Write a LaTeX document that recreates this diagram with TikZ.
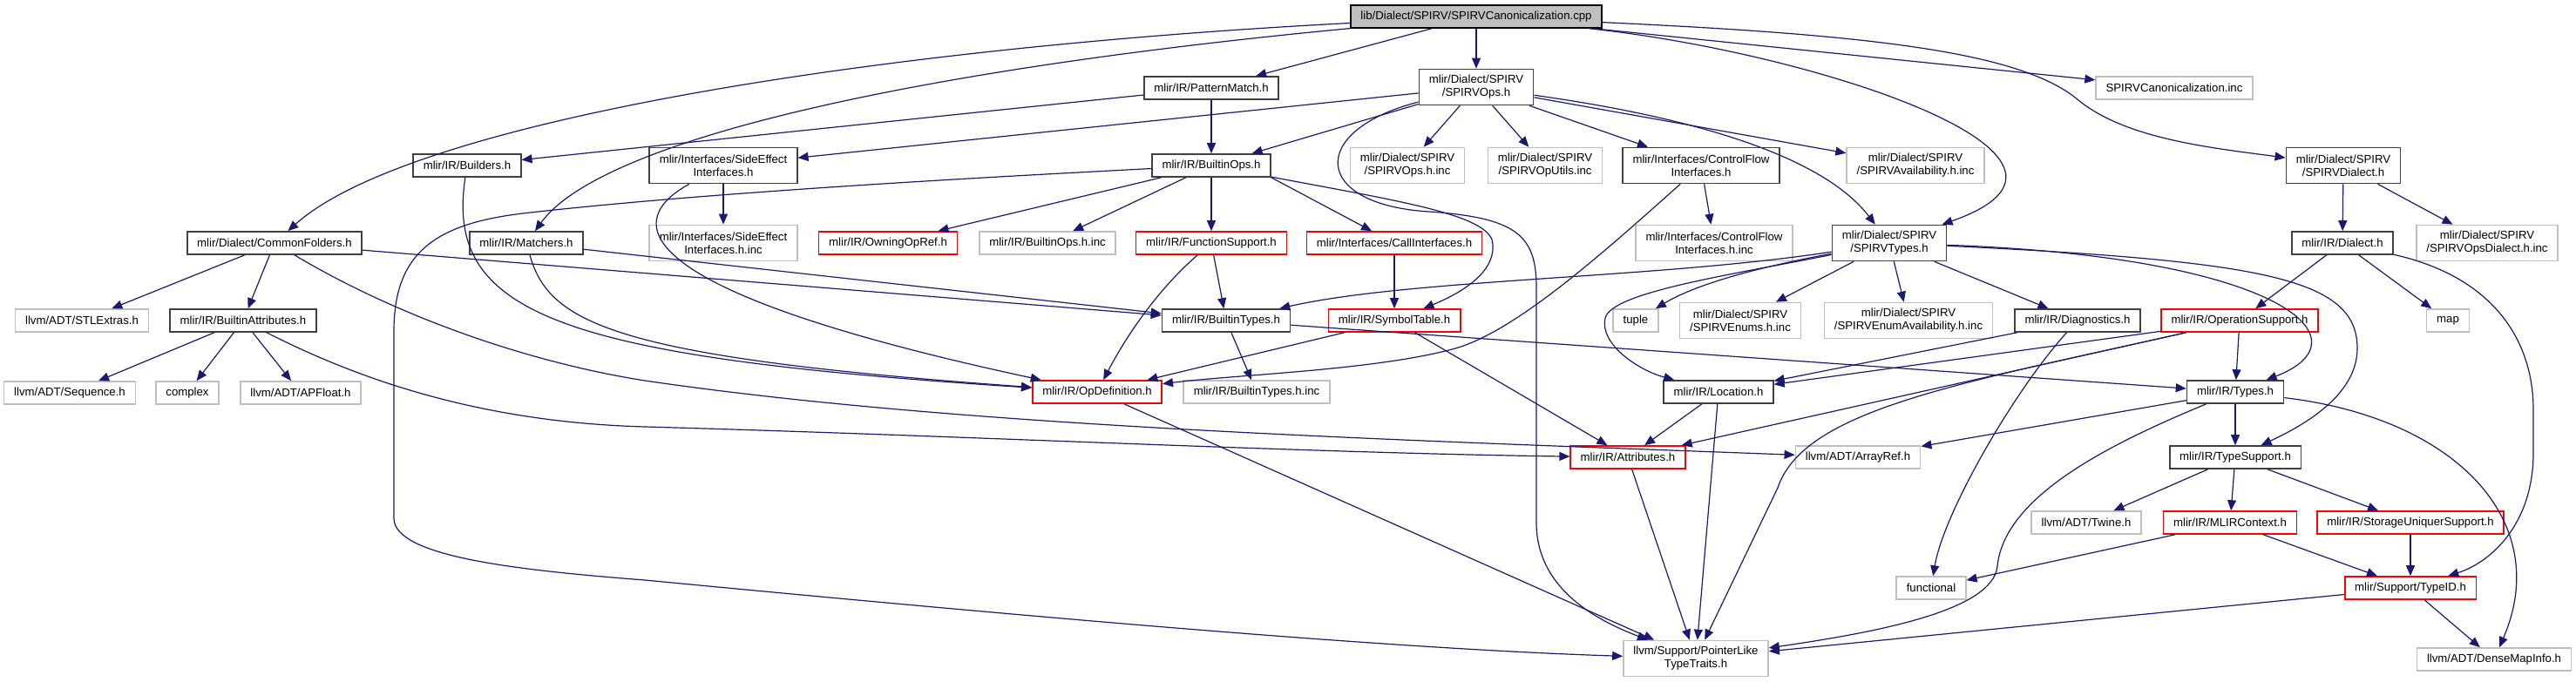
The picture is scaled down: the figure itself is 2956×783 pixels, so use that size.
\documentclass[tikz,border=0pt]{standalone}
\usepackage{fontspec}
\setmainfont{Liberation Sans}
\usetikzlibrary{arrows.meta}
\definecolor{edgec}{HTML}{191970}
\definecolor{nodeblk}{HTML}{404040}
\definecolor{nodegray}{HTML}{BFBFBF}
\definecolor{nodered}{HTML}{FF0000}
\begin{document}
\begin{tikzpicture}[x=1pt,y=-1pt,
  box/.style={draw=nodeblk, line width=1.6pt, rectangle, inner xsep=11.5pt, inner ysep=0pt,
    minimum height=26pt, font=\fontsize{13.2}{15}\selectfont, align=center, text=black},
  ext/.style={box, draw=nodegray},
  trunc/.style={box, draw=nodered},
  two/.style={minimum height=41pt},
  edge/.style={draw=edgec, line width=1.2pt, -{Triangle[length=12pt,width=10pt]}},
]
\useasboundingbox (0,0) rectangle (2956,783);
% nodes
\node[box,draw=black,fill=nodegray] (root) at (1694,19) {lib/Dialect/SPIRV/SPIRVCanonicalization.cpp};
\node[box] (builders) at (536,190) {mlir/IR/Builders.h};
\node[box] (commonf) at (315,279) {mlir/Dialect/CommonFolders.h};
\node[box] (matchers) at (604,279) {mlir/IR/Matchers.h};
\node[ext] (stlextras) at (94,368) {llvm/ADT/STLExtras.h};
\node[box] (battr) at (279,368) {mlir/IR/BuiltinAttributes.h};
\node[ext] (sequence) at (80,451) {llvm/ADT/Sequence.h};
\node[ext] (complex) at (215,451) {complex};
\node[ext] (apfloat) at (345,451) {llvm/ADT/APFloat.h};
\node[box] (pmatch) at (1390,101) {mlir/IR/PatternMatch.h};
\node[box,two] (sideeff) at (830,190) {mlir/Interfaces/SideEffect\\Interfaces.h};
\node[box] (bops) at (1390,190) {mlir/IR/BuiltinOps.h};
\node[ext,two] (sideinc) at (830,279) {mlir/Interfaces/SideEffect\\Interfaces.h.inc};
\node[trunc] (owning) at (1019,279) {mlir/IR/OwningOpRef.h};
\node[ext] (bopsinc) at (1202,279) {mlir/IR/BuiltinOps.h.inc};
\node[trunc] (funcsup) at (1390,279) {mlir/IR/FunctionSupport.h};
\node[box] (btypes) at (1407,368) {mlir/IR/BuiltinTypes.h};
\node[trunc] (opdef) at (1259,450) {mlir/IR/OpDefinition.h};
\node[ext] (btypesinc) at (1442,450) {mlir/IR/BuiltinTypes.h.inc};
\node[box,two] (spops) at (1694,100) {mlir/Dialect/SPIRV\\/SPIRVOps.h};
\node[ext,two] (opsinc) at (1615,190) {mlir/Dialect/SPIRV\\/SPIRVOps.h.inc};
\node[ext,two] (oputils) at (1773,190) {mlir/Dialect/SPIRV\\/SPIRVOpUtils.inc};
\node[box,two] (cflow) at (1952,190) {mlir/Interfaces/ControlFlow\\Interfaces.h};
\node[ext,two] (avail) at (2198,190) {mlir/Dialect/SPIRV\\/SPIRVAvailability.h.inc};
\node[ext] (canoninc) at (2495,101) {SPIRVCanonicalization.inc};
\node[box,two] (spdialect) at (2689,190) {mlir/Dialect/SPIRV\\/SPIRVDialect.h};
\node[trunc] (callif) at (1600,279) {mlir/Interfaces/CallInterfaces.h};
\node[ext,two] (cflowinc) at (1967,279) {mlir/Interfaces/ControlFlow\\Interfaces.h.inc};
\node[box,two] (sptypes) at (2168,279) {mlir/Dialect/SPIRV\\/SPIRVTypes.h};
\node[box] (dialect) at (2688,279) {mlir/IR/Dialect.h};
\node[ext,two] (opsdialinc) at (2854,279) {mlir/Dialect/SPIRV\\/SPIRVOpsDialect.h.inc};
\node[trunc] (symtab) at (1600,368) {mlir/IR/SymbolTable.h};
\node[ext] (tuple) at (1877,368) {tuple};
\node[ext,two] (enums) at (1997,368) {mlir/Dialect/SPIRV\\/SPIRVEnums.h.inc};
\node[ext,two] (enumavail) at (2190,368) {mlir/Dialect/SPIRV\\/SPIRVEnumAvailability.h.inc};
\node[box] (diag) at (2384,368) {mlir/IR/Diagnostics.h};
\node[trunc] (opsup) at (2570,368) {mlir/IR/OperationSupport.h};
\node[ext] (map) at (2809,368) {map};
\node[box] (location) at (1972,450) {mlir/IR/Location.h};
\node[box] (types) at (2565,450) {mlir/IR/Types.h};
\node[trunc] (attrs) at (1868,525) {mlir/IR/Attributes.h};
\node[ext] (arrayref) at (2132,525) {llvm/ADT/ArrayRef.h};
\node[box] (typesup) at (2565,525) {mlir/IR/TypeSupport.h};
\node[ext] (twine) at (2394,600) {llvm/ADT/Twine.h};
\node[trunc] (mlirctx) at (2559,600) {mlir/IR/MLIRContext.h};
\node[trunc] (storage) at (2766,600) {mlir/IR/StorageUniquerSupport.h};
\node[ext] (functional) at (2216,675) {functional};
\node[trunc] (typeid) at (2766,675) {mlir/Support/TypeID.h};
\node[ext] (densemap) at (2862,757) {llvm/ADT/DenseMapInfo.h};
\node[ext,two] (pointer) at (1946,756) {llvm/Support/PointerLike\\TypeTraits.h};
% edges from root
\draw[edge] (root) .. controls (1000,55) and (470,140) .. (commonf);
\draw[edge] (root) .. controls (1050,80) and (690,160) .. (matchers);
\draw[edge] (root) -- (pmatch);
\draw[edge] (root) -- (spops);
\draw[edge] (root) .. controls (2080,60) and (2450,180) .. (sptypes);
\draw[edge] (root) -- (canoninc);
\draw[edge] (root) .. controls (2150,40) and (2320,60) .. (2385,115) .. controls (2440,160) and (2540,170) .. (spdialect);
% PatternMatch
\draw[edge] (pmatch) -- (builders);
\draw[edge] (pmatch) -- (bops);
% SPIRVOps
\draw[edge] (spops) -- (sideeff);
\draw[edge] (spops) -- (bops);
\draw[edge] (spops) -- (opsinc);
\draw[edge] (spops) -- (oputils);
\draw[edge] (spops) -- (cflow);
\draw[edge] (spops) -- (avail);
\draw[edge] (spops) .. controls (1980,140) and (2100,190) .. (sptypes);
\draw[edge] (spops) .. controls (1500,150) and (1505,235) .. (1640,243) .. controls (1740,250) and (1763,270) .. (1763,330) -- (1763,600) .. controls (1763,680) and (1840,715) .. (pointer);
% Builders, SideEffect
\draw[edge] (builders) .. controls (510,360) and (640,410) .. (opdef);
\draw[edge] (sideeff) -- (sideinc);
\draw[edge] (sideeff) .. controls (720,250) and (700,330) .. (opdef);
% BuiltinOps
\draw[edge] (bops) -- (owning);
\draw[edge] (bops) -- (bopsinc);
\draw[edge] (bops) -- (funcsup);
\draw[edge] (bops.south east) -- (callif);
\draw[edge] (bops) .. controls (1600,230) and (1700,245) .. (1712,275) .. controls (1720,310) and (1680,335) .. (symtab);
\draw[edge] (bops) .. controls (1100,205) and (800,222) .. (600,245) .. controls (500,257) and (452,290) .. (452,380) -- (452,595) .. controls (452,640) and (600,655) .. (740,666) .. controls (1200,710) and (1600,745) .. (pointer);
% CommonFolders, Matchers
\draw[edge] (commonf) -- (stlextras);
\draw[edge] (commonf) -- (battr);
\draw[edge] (commonf) -- (btypes);
\draw[edge] (commonf) .. controls (450,360) and (600,415) .. (740,437) .. controls (1100,490) and (1600,505) .. (arrayref);
\draw[edge] (matchers) -- (btypes);
\draw[edge] (matchers) .. controls (630,370) and (700,410) .. (opdef);
% BuiltinAttributes
\draw[edge] (battr) -- (sequence);
\draw[edge] (battr) -- (complex);
\draw[edge] (battr) -- (apfloat);
\draw[edge] (battr) .. controls (420,440) and (560,485) .. (740,490) .. controls (1100,500) and (1500,520) .. (attrs);
% FunctionSupport, CallInterfaces, SymbolTable, BuiltinTypes
\draw[edge] (funcsup) -- (btypes);
\draw[edge] (funcsup) .. controls (1320,340) and (1285,400) .. (opdef);
\draw[edge] (callif) -- (symtab);
\draw[edge] (symtab) -- (opdef);
\draw[edge] (symtab) -- (attrs);
\draw[edge] (btypes) -- (btypesinc);
\draw[edge] (btypes) -- (types);
% ControlFlow
\draw[edge] (cflow) -- (cflowinc);
\draw[edge] (cflow) .. controls (1840,290) and (1740,380) .. (1670,400) .. controls (1580,425) and (1420,430) .. (opdef);
% SPIRVTypes
\draw[edge] (sptypes) .. controls (1900,320) and (1620,320) .. (btypes);
\draw[edge] (sptypes) .. controls (2000,310) and (1940,330) .. (tuple);
\draw[edge] (sptypes) -- (enums);
\draw[edge] (sptypes) -- (enumavail);
\draw[edge] (sptypes) -- (diag);
\draw[edge] (sptypes) .. controls (1990,315) and (1850,335) .. (1842,365) .. controls (1835,395) and (1880,425) .. (location);
\draw[edge] (sptypes) .. controls (2620,295) and (2720,390) .. (types);
\draw[edge] (sptypes) .. controls (2600,300) and (2705,320) .. (2705,400) .. controls (2705,455) and (2640,490) .. (typesup);
% Diagnostics, OperationSupport
\draw[edge] (diag) -- (location);
\draw[edge] (diag) .. controls (2310,450) and (2230,590) .. (functional);
\draw[edge] (opsup) -- (location);
\draw[edge] (opsup) -- (attrs);
\draw[edge] (opsup) .. controls (2250,440) and (2070,470) .. (2040,560) -- (pointer);
\draw[edge] (opsup) -- (types);
% OpDefinition, Location, Attributes
\draw[edge] (opdef) -- (pointer);
\draw[edge] (location) -- (attrs);
\draw[edge] (location) -- (pointer);
\draw[edge] (attrs) -- (pointer);
% Types
\draw[edge] (types) -- (arrayref);
\draw[edge] (types) -- (typesup);
\draw[edge] (types) .. controls (2420,510) and (2300,570) .. (2292,650) .. controls (2287,700) and (2160,725) .. (pointer);
\draw[edge] (types) .. controls (2820,480) and (2930,600) .. (densemap);
% Dialects
\draw[edge] (spdialect) -- (dialect);
\draw[edge] (spdialect) -- (opsdialinc);
\draw[edge] (dialect) -- (opsup);
\draw[edge] (dialect) -- (map);
\draw[edge] (dialect) .. controls (2870,320) and (2907,400) .. (2907,470) -- (2907,520) .. controls (2907,600) and (2860,645) .. (typeid);
% TypeSupport and below
\draw[edge] (typesup) -- (twine);
\draw[edge] (typesup) -- (mlirctx);
\draw[edge] (typesup) -- (storage);
\draw[edge] (mlirctx) -- (functional);
\draw[edge] (mlirctx) -- (typeid);
\draw[edge] (storage) -- (typeid);
\draw[edge] (typeid) -- (pointer);
\draw[edge] (typeid) -- (densemap);
\end{tikzpicture}
\end{document}
